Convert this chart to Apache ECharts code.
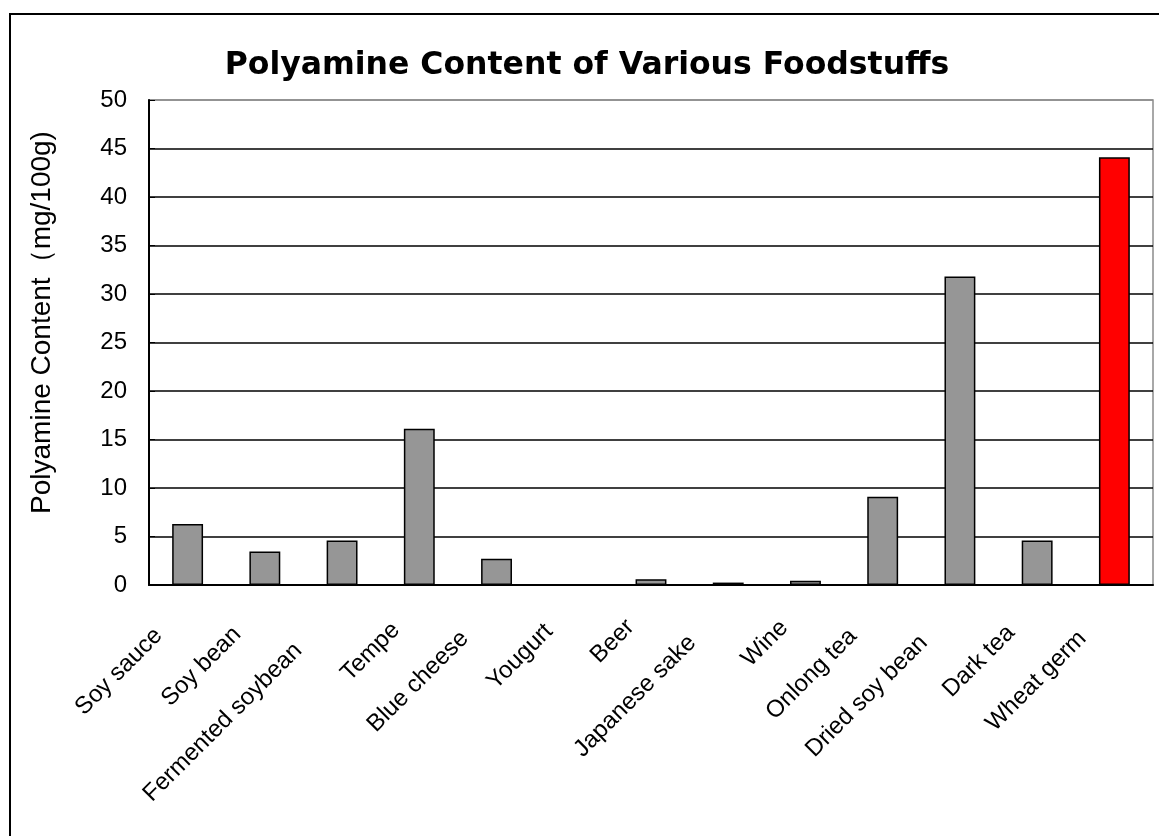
<!DOCTYPE html>
<html>
<head>
<meta charset="utf-8">
<script src="https://cdn.jsdelivr.net/npm/echarts@6/dist/echarts.min.js"></script>
<style>
html, body { margin: 0; padding: 0; background: #fff; overflow: hidden; }
#frame { position: absolute; left: 9px; top: 13px; width: 1300px; height: 1000px; border: 2px solid #000; }
#chart { position: absolute; left: 0; top: 0; width: 1159px; height: 836px; }
</style>
</head>
<body>
<div id="frame"></div>
<div id="chart"></div>
<script>
// foods and polyamine content (mg/100g)
const foods = ['Soy sauce', 'Soy bean', 'Fermented soybean', 'Tempe', 'Blue cheese', 'Yougurt',
	'Beer', 'Japanese sake', 'Wine', 'Onlong tea', 'Dried soy bean', 'Dark tea', 'Wheat germ'];
const content = [6.3, 3.45, 4.6, 16.1, 2.7, 0, 0.6, 0.25, 0.45, 9.1, 31.8, 4.6, 44.1];
const highlight = 'Wheat germ';
const yTicks = [0, 5, 10, 15, 20, 25, 30, 35, 40, 45, 50];

const labelFont = '24px "Liberation Sans"';
const ctx = document.createElement('canvas').getContext('2d');
ctx.font = labelFont;
// longer rotated labels sit further down-left, like the spreadsheet does it
const labelPad = (t) => Math.round(ctx.measureText(t).width * 0.2 + 19);

const chart = echarts.init(document.getElementById('chart'));
const splitColors = yTicks.map((t, i) => i === yTicks.length - 1 ? '#8c8c8c' : '#000');

chart.setOption({
	animation: false,
	title: {
		text: 'Polyamine Content of Various Foodstuffs',
		left: 582,
		top: 45,
		textAlign: 'center',
		textStyle: {
			fontFamily: 'DejaVu Sans',
			fontWeight: 'bold',
			fontSize: 31.5,
			color: '#000'
		}
	},
	grid: {
		left: 149,
		top: 100,
		right: 6,
		bottom: 251,
		show: true,
		borderColor: '#8c8c8c',
		borderWidth: 1.5
	},
	xAxis: {
		type: 'category',
		data: foods.map(f => ({ value: f, textStyle: { padding: [0, labelPad(f), 0, 0] } })),
		axisLine: { lineStyle: { color: '#000', width: 2 } },
		axisTick: { inside: true, length: 7, lineStyle: { color: '#000', width: 1.5 } },
		axisLabel: {
			rotate: 45,
			margin: 18,
			interval: 0,
			fontFamily: 'Liberation Sans',
			fontSize: 24,
			color: '#000'
		}
	},
	yAxis: {
		type: 'value',
		min: 0,
		max: 50,
		interval: 5,
		name: 'Polyamine Content（mg/100g)',
		nameLocation: 'middle',
		nameGap: 93,
		nameTextStyle: {
			fontFamily: 'Liberation Sans',
			fontSize: 28,
			color: '#000',
			padding: [0, 0, 0, 40]
		},
		axisLine: { show: true, lineStyle: { color: '#000', width: 2 } },
		axisTick: { show: true, inside: true, length: 6, lineStyle: { color: '#000' } },
		axisLabel: {
			margin: 22,
			fontFamily: 'Liberation Sans',
			fontSize: 24,
			color: '#000'
		},
		splitLine: { lineStyle: { color: splitColors, width: 1.5 } }
	},
	series: [{
		type: 'bar',
		barWidth: '40%',
		data: content.map((v, i) => ({
			value: v,
			itemStyle: { color: foods[i] === highlight ? '#ff0000' : '#969696' }
		})),
		itemStyle: { borderColor: '#000', borderWidth: 1.5 }
	}]
});
</script>
</body>
</html>
